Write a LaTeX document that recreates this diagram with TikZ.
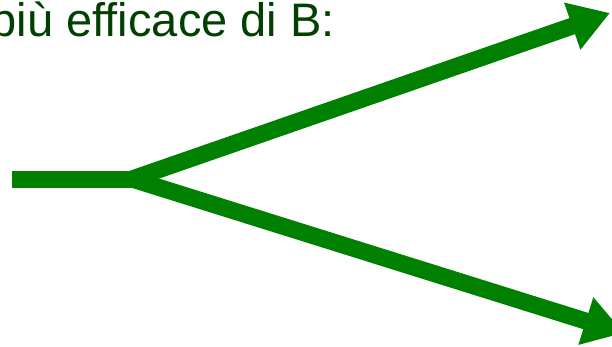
\documentclass[tikz,border=0pt]{standalone}
\usepackage{fontspec}
\setmainfont{Liberation Sans}
\usetikzlibrary{arrows.meta}

\definecolor{arrowgreen}{RGB}{0,128,0}
\definecolor{textgreen}{RGB}{0,64,0}

\begin{document}
\begin{tikzpicture}[x=1pt, y=-1pt, line cap=butt,
  branch/.style={draw=arrowgreen, line width=17pt},
  fork/.style={branch, -{Triangle[length=40pt, width=47pt]}}]
  \useasboundingbox (0,0) rectangle (612,346);
  % caption, cut at the left edge
  \node[anchor=base east, inner sep=0pt, text=textgreen, font=\fontsize{47}{54}\selectfont]
    (caption) at (335,36) {più efficace di B:};
  % stem and the two branches
  \coordinate (stem) at (12,179);
  \coordinate (split) at (132,179);
  \coordinate (uptip) at (610,13);
  \coordinate (downtip) at (624,333);
  \draw[branch] (stem) -- (split);
  \draw[fork] (split) -- (uptip);
  \draw[fork] (split) -- (downtip);
\end{tikzpicture}
\end{document}
